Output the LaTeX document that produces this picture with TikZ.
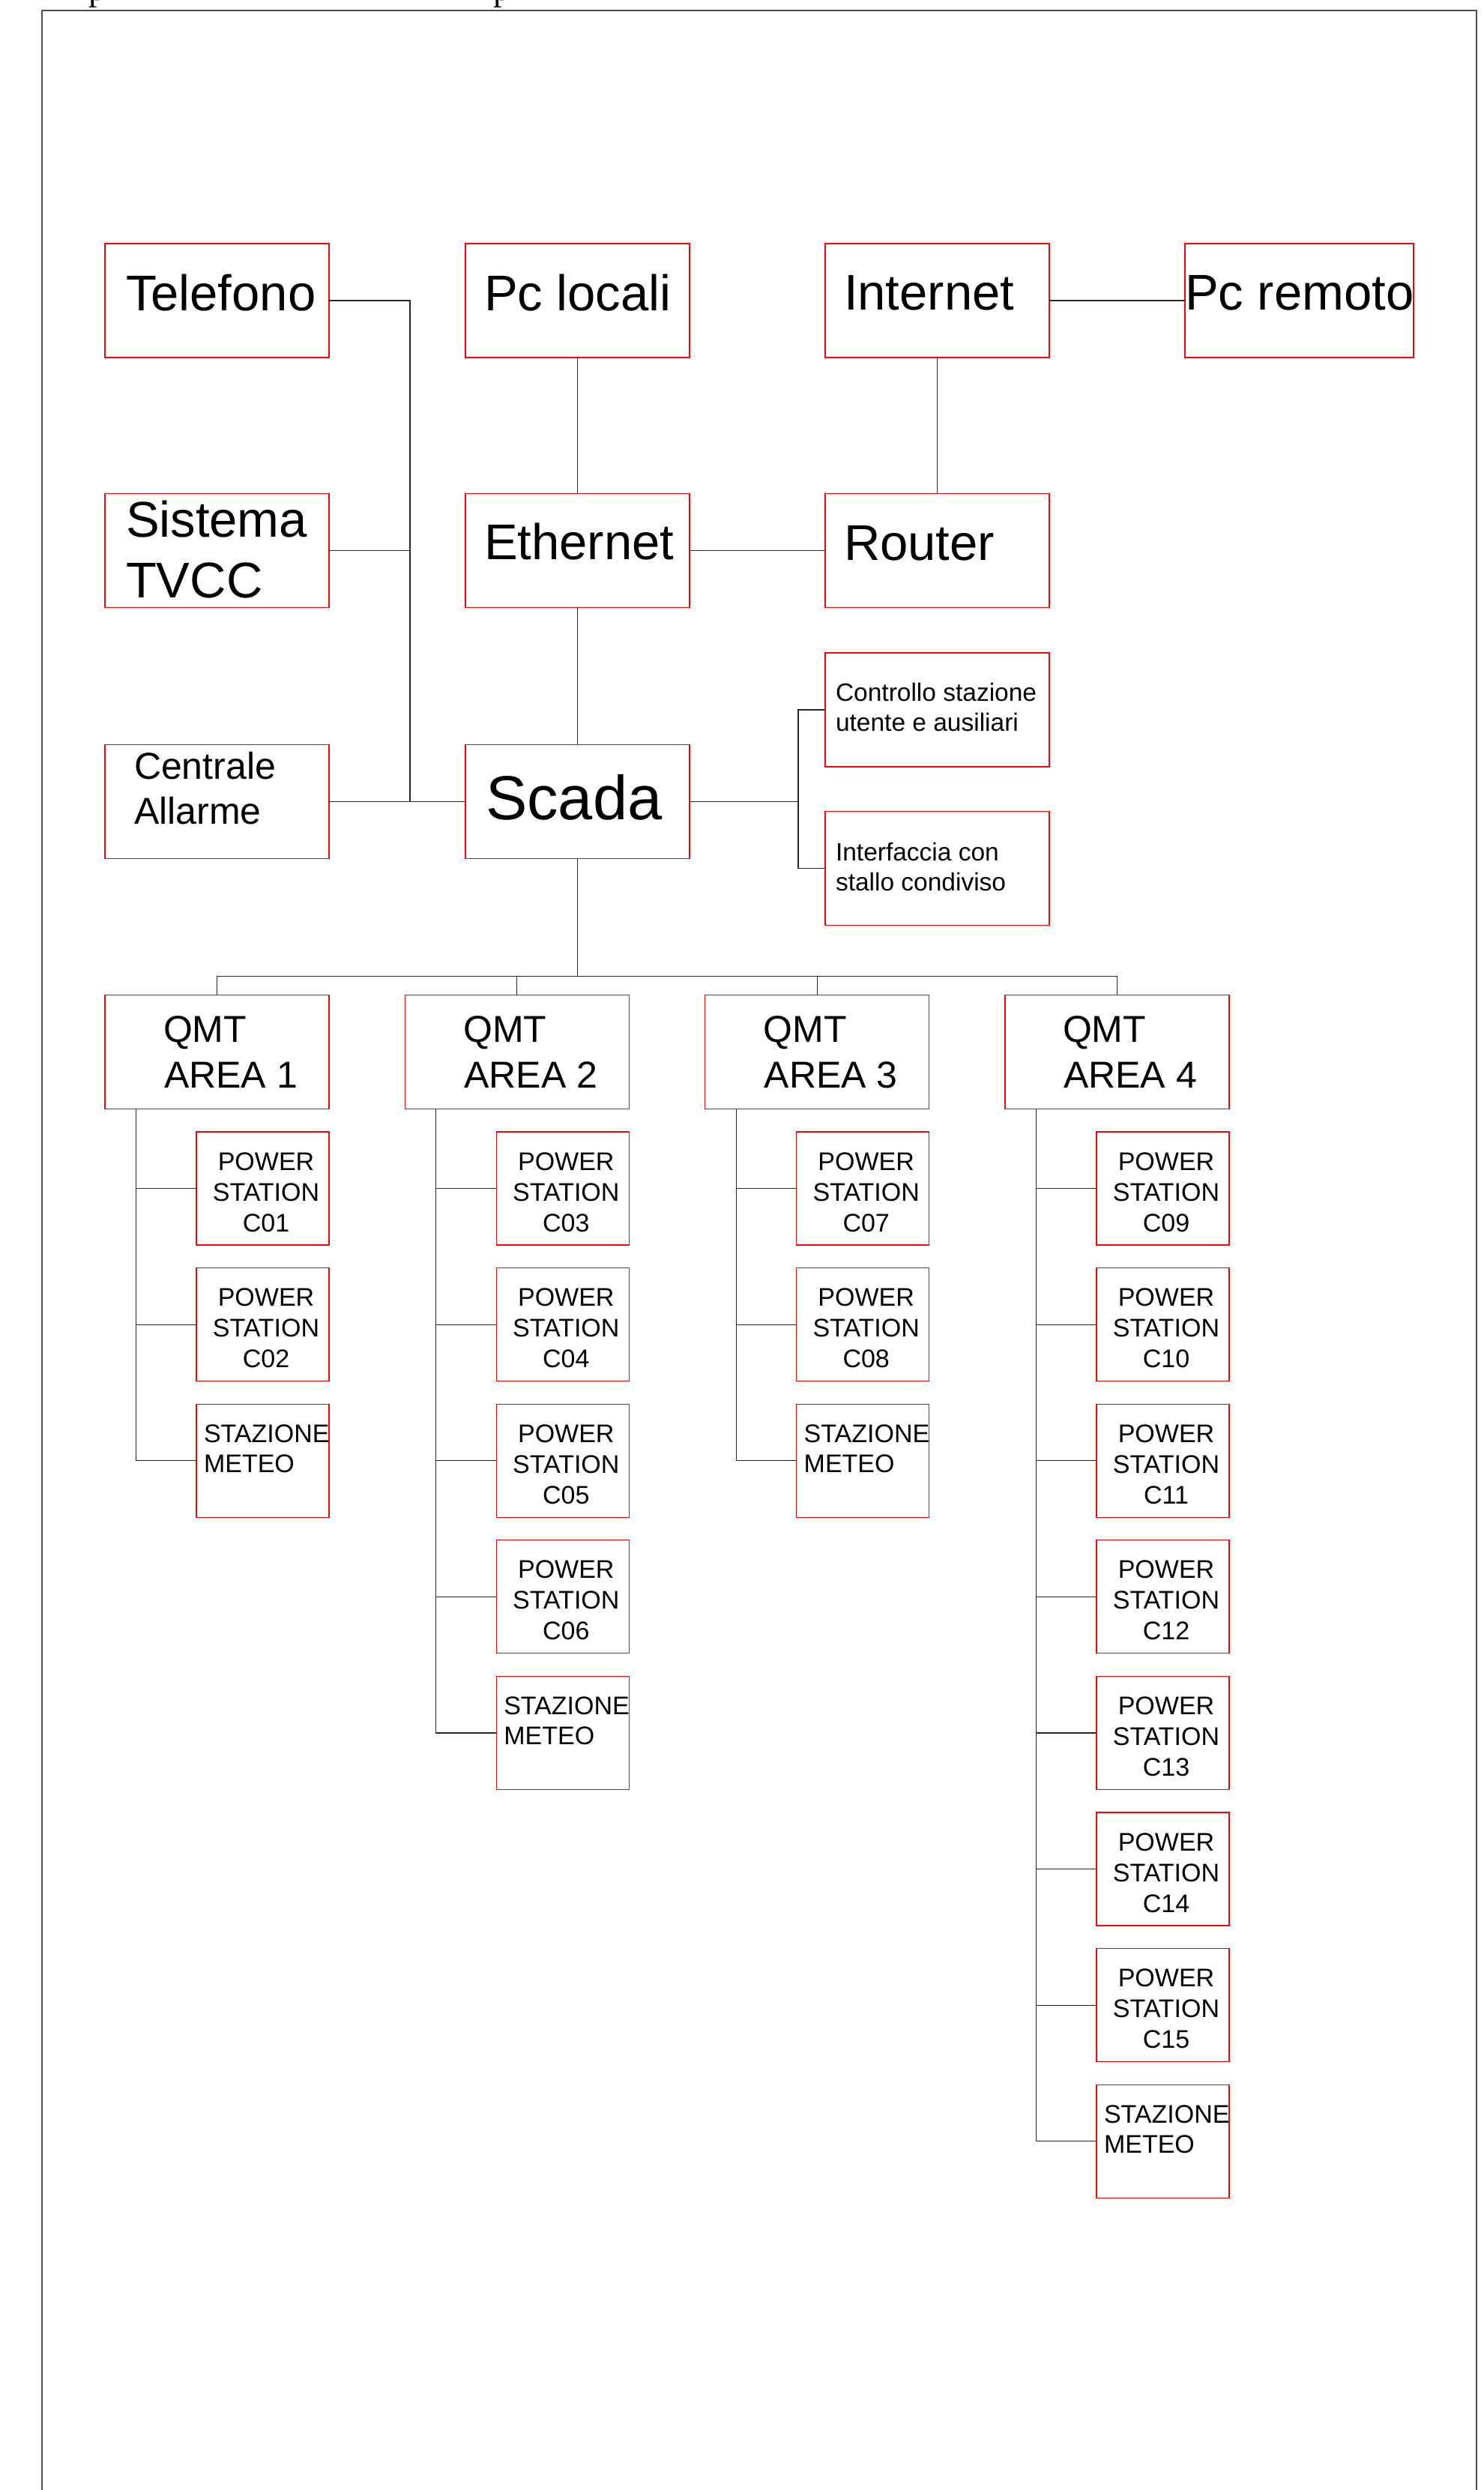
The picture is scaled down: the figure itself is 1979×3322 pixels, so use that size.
\documentclass[tikz,border=0pt]{standalone}
\usepackage{fontspec}
\setmainfont{Liberation Sans}
\newfontfamily\serifp{Liberation Serif}
\begin{document}
\begin{tikzpicture}[x=1pt,y=-1pt,
  bx/.style={draw=red,line width=1.3pt,inner sep=0pt,outer sep=0pt,minimum width=299pt,minimum height=152pt},
  sbx/.style={draw=red,line width=1.3pt,inner sep=0pt,outer sep=0pt,minimum width=177pt,minimum height=151pt},
  ln/.style={draw=black!85,line width=1.2pt},
  lbl/.style={inner sep=0pt,outer sep=0pt,align=left,anchor=base west},
  big/.style={lbl,font=\fontsize{67}{81}\selectfont},
  mid/.style={lbl,font=\fontsize{50}{61}\selectfont},
  sml/.style={lbl,font=\fontsize{33.5}{40}\selectfont},
  pstxt/.style={inner sep=0pt,outer sep=0pt,align=center,anchor=base,font=\fontsize{34}{41}\selectfont},
  mttxt/.style={lbl,font=\fontsize{34}{40}\selectfont}]
\useasboundingbox (0,0) rectangle (1979,3322);
\clip (0,0) rectangle (1979,3322);

% page frame and cut-off text
\draw[line width=1.5pt,black!70] (56,3330) -- (56,14) -- (1970,14) -- (1970,3330);
\node[inner sep=0pt,anchor=base west,font=\serifp\fontsize{46}{50}\selectfont] (frag1) at (118,0) {p};
\node[inner sep=0pt,anchor=base west,font=\serifp\fontsize{46}{50}\selectfont] (frag2) at (658,0) {p};

% top part boxes
\node[bx] (tel) at (289.5,401) {};
\node[bx] (pcl) at (770.5,401) {};
\node[bx] (inet) at (1250.5,401) {};
\node[bx,minimum width=305pt] (pcr) at (1733.5,401) {};
\node[bx] (tvcc) at (289.5,734.5) {};
\node[bx] (eth) at (770.5,734.5) {};
\node[bx] (rtr) at (1250.5,734.5) {};
\node[bx] (cen) at (289.5,1069.5) {};
\node[bx] (scada) at (770.5,1069.5) {};
\node[bx] (ctrl) at (1250.5,947) {};
\node[bx] (intf) at (1250.5,1158.5) {};

% (multi-line labels: anchor is the baseline of the last line)
\node[big] (telt) at (168,414) {Telefono};
\node[big] (pclt) at (646,414) {Pc locali};
\node[big] (inett) at (1126,413.5) {Internet};
\node[big] (pcrt) at (1581,413) {Pc remoto};
\node[big] (tvcct) at (168,797) {Sistema\\TVCC};
\node[big] (etht) at (646,746) {Ethernet};
\node[big] (rtrt) at (1126,747) {Router};
\node[lbl,font=\fontsize{50}{60}\selectfont] (cent) at (179,1099) {Centrale\\Allarme};
\node[lbl,font=\fontsize{83}{90}\selectfont] (scadat) at (648,1093) {Scada};
\node[sml] (ctrlt) at (1115,975) {Controllo stazione\\utente e ausiliari};
\node[sml] (intft) at (1115,1188) {Interfaccia con\\stallo condiviso};

% top connectors
\coordinate (tb) at (547,1069.5);
\draw[ln] (tel.east) -| (tb);
\draw[ln] (tvcc.east) -- (tvcc.east -| tb);
\draw[ln] (cen.east) -- (scada.west);
\draw[ln] (pcl.south) -- (eth.north);
\draw[ln] (eth.south) -- (scada.north);
\draw[ln] (eth.east) -- (rtr.west);
\draw[ln] (inet.south) -- (rtr.north);
\draw[ln] (inet.east) -- (pcr.west);
\coordinate (brk) at (1065,1069.5);
\draw[ln] (scada.east) -- (brk);
\draw[ln] (ctrl.west) -- (ctrl.west -| brk) -- (intf.west -| brk) -- (intf.west);

% QMT areas
\node[bx] (q1) at (289.5,1403.5) {};
\node[bx] (q2) at (689.8,1403.5) {};
\node[bx] (q3) at (1090.2,1403.5) {};
\node[bx] (q4) at (1490.5,1403.5) {};
\node[mid] (q1t) at (218,1451.5) {QMT\\\hspace*{1pt}AREA 1};
\node[mid] (q2t) at (618.3,1451.5) {QMT\\\hspace*{1pt}AREA 2};
\node[mid] (q3t) at (1018.7,1451.5) {QMT\\\hspace*{1pt}AREA 3};
\node[mid] (q4t) at (1418,1451.5) {QMT\\\hspace*{1pt}AREA 4};

\coordinate (qb) at (770.5,1303);
\draw[ln] (q1.north) -- ++(0,-25) -| (q4.north);
\draw[ln] (q2.north) -- ++(0,-25);
\draw[ln] (q3.north) -- ++(0,-25);
\draw[ln] (scada.south) -- (qb);

% column 1
\foreach \i/\c in {0/01,1/02}{
  \pgfmathsetmacro\yt{1510+181.6*\i}
  \node[sbx] (ps\c) at (350.5,\yt+75.5) {};
  \node[pstxt] (pt\c) at (355,\yt+133) {POWER\\STATION\\C\c};
  \draw[ln] (ps\c.west) -- ++(-80.5,0);
}
\node[sbx] (m1) at (350.5,1873.2+75.5) {};
\node[mttxt] (m1t) at (272,1873.2+91.5) {STAZIONE\\METEO};
\draw[ln] ([xshift=-108pt]q1.south) |- (m1.west);

% column 2
\foreach \i/\c in {0/03,1/04,2/05,3/06}{
  \pgfmathsetmacro\yt{1510+181.6*\i}
  \node[sbx] (ps\c) at (750.8,\yt+75.5) {};
  \node[pstxt] (pt\c) at (755.3,\yt+133) {POWER\\STATION\\C\c};
  \draw[ln] (ps\c.west) -- ++(-80.5,0);
}
\node[sbx] (m2) at (750.8,2236.4+75.5) {};
\node[mttxt] (m2t) at (672.3,2236.4+91.5) {STAZIONE\\METEO};
\draw[ln] ([xshift=-108pt]q2.south) |- (m2.west);

% column 3
\foreach \i/\c in {0/07,1/08}{
  \pgfmathsetmacro\yt{1510+181.6*\i}
  \node[sbx] (ps\c) at (1151.2,\yt+75.5) {};
  \node[pstxt] (pt\c) at (1155.7,\yt+133) {POWER\\STATION\\C\c};
  \draw[ln] (ps\c.west) -- ++(-80.5,0);
}
\node[sbx] (m3) at (1151.2,1873.2+75.5) {};
\node[mttxt] (m3t) at (1072.7,1873.2+91.5) {STAZIONE\\METEO};
\draw[ln] ([xshift=-108pt]q3.south) |- (m3.west);

% column 4
\foreach \i/\c in {0/09,1/10,2/11,3/12,4/13,5/14,6/15}{
  \pgfmathsetmacro\yt{1510+181.6*\i}
  \node[sbx] (ps\c) at (1551.5,\yt+75.5) {};
  \node[pstxt] (pt\c) at (1556,\yt+133) {POWER\\STATION\\C\c};
  \draw[ln] (ps\c.west) -- ++(-80.5,0);
}
\node[sbx] (m4) at (1551.5,2781.2+75.5) {};
\node[mttxt] (m4t) at (1473,2781.2+91.5) {STAZIONE\\METEO};
\draw[ln] ([xshift=-108pt]q4.south) |- (m4.west);
\end{tikzpicture}
\end{document}
